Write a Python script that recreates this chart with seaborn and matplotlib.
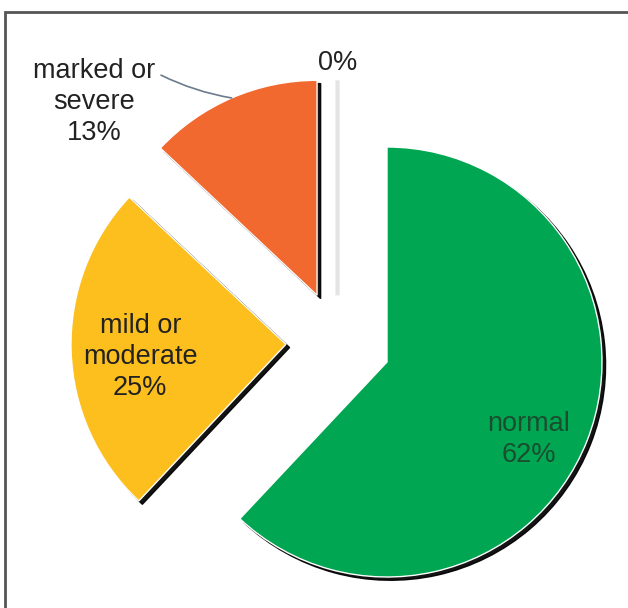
import numpy as np
import matplotlib.pyplot as plt
import matplotlib.patches as mpatches
import seaborn as sns

# data
categories = ['normal', 'mild or\nmoderate', 'marked or\nsevere', '']
values = [62, 25, 13, 0]
pct_labels = ['62%', '25%', '13%', '0%']
colors = ['#00A651', '#FDBF1E', '#F1692F', '#E2E4E6']

sns.set_theme(style='white')
plt.rcParams['font.family'] = ['Liberation Sans', 'DejaVu Sans']

fig = plt.figure(figsize=(6.28, 6.08), dpi=100)
ax = fig.add_axes([0, 0, 1, 1])

# "normal" stays in place, the other slices are pulled out as a group
main, _ = ax.pie(values, colors=colors, startangle=90, counterclock=False)
pulled, _ = ax.pie(values, colors=colors, startangle=90, counterclock=False,
                   center=(-0.23, 0.09), explode=[0, 0.24, 0.24, 0.22])
for w in main[1:]:
    w.set_visible(False)
pulled[0].set_visible(False)

zero = pulled[3]
zero.set_edgecolor('#E2E4E6')
zero.set_linewidth(3)

# dark drop shadows on the right/bottom edges
for w in [main[0], pulled[1], pulled[2]]:
    sh = mpatches.Shadow(w, 0.012, -0.011, shade=1.0)
    sh.set_alpha(0.92)
    sh.set_zorder(w.get_zorder() - 0.1)
    ax.add_patch(sh)


def point_on(w, frac, dang=0.0):
    ang = np.deg2rad((w.theta1 + w.theta2) / 2 + dang)
    cx, cy = w.center
    return cx + frac * w.r * np.cos(ang), cy + frac * w.r * np.sin(ang)


txt = dict(fontsize=19.5, ha='center', va='center', color='#222222',
           linespacing=1.25)

x, y = point_on(main[0], 0.75, -7)
ax.text(x, y, categories[0] + '\n' + pct_labels[0], fontsize=19.5, ha='center',
        va='center', color='#1E3F2A', alpha=0.85, linespacing=1.25)

x, y = point_on(pulled[1], 0.68, 3)
ax.text(x, y, categories[1] + '\n' + pct_labels[1], **txt)

ax.annotate(categories[2] + '\n' + pct_labels[2], xy=point_on(pulled[2], 1.0),
            xytext=(-99, -3), textcoords='offset points',
            arrowprops=dict(arrowstyle='-', color='#6B7B8C', lw=1.2,
                            relpos=(1.0, 0.84), shrinkA=2, shrinkB=0,
                            connectionstyle='arc3,rad=0.08'),
            **txt)

x, y = point_on(zero, 1.08)
ax.text(x, y, pct_labels[3], **txt)

ax.set_xlim(-387 / 215, 241 / 215)
ax.set_ylim(-246 / 215, 362 / 215)
ax.set_aspect('equal')
ax.axis('off')

# frame around the panel (right and bottom run off the image)
fig.patches.append(mpatches.Rectangle((5 / 628, -0.1), 1.2, 1.1 - 12 / 608,
                                      transform=fig.transFigure, fill=False,
                                      edgecolor='#555555', lw=2))

fig.savefig('out.png', dpi=100, facecolor='white')
